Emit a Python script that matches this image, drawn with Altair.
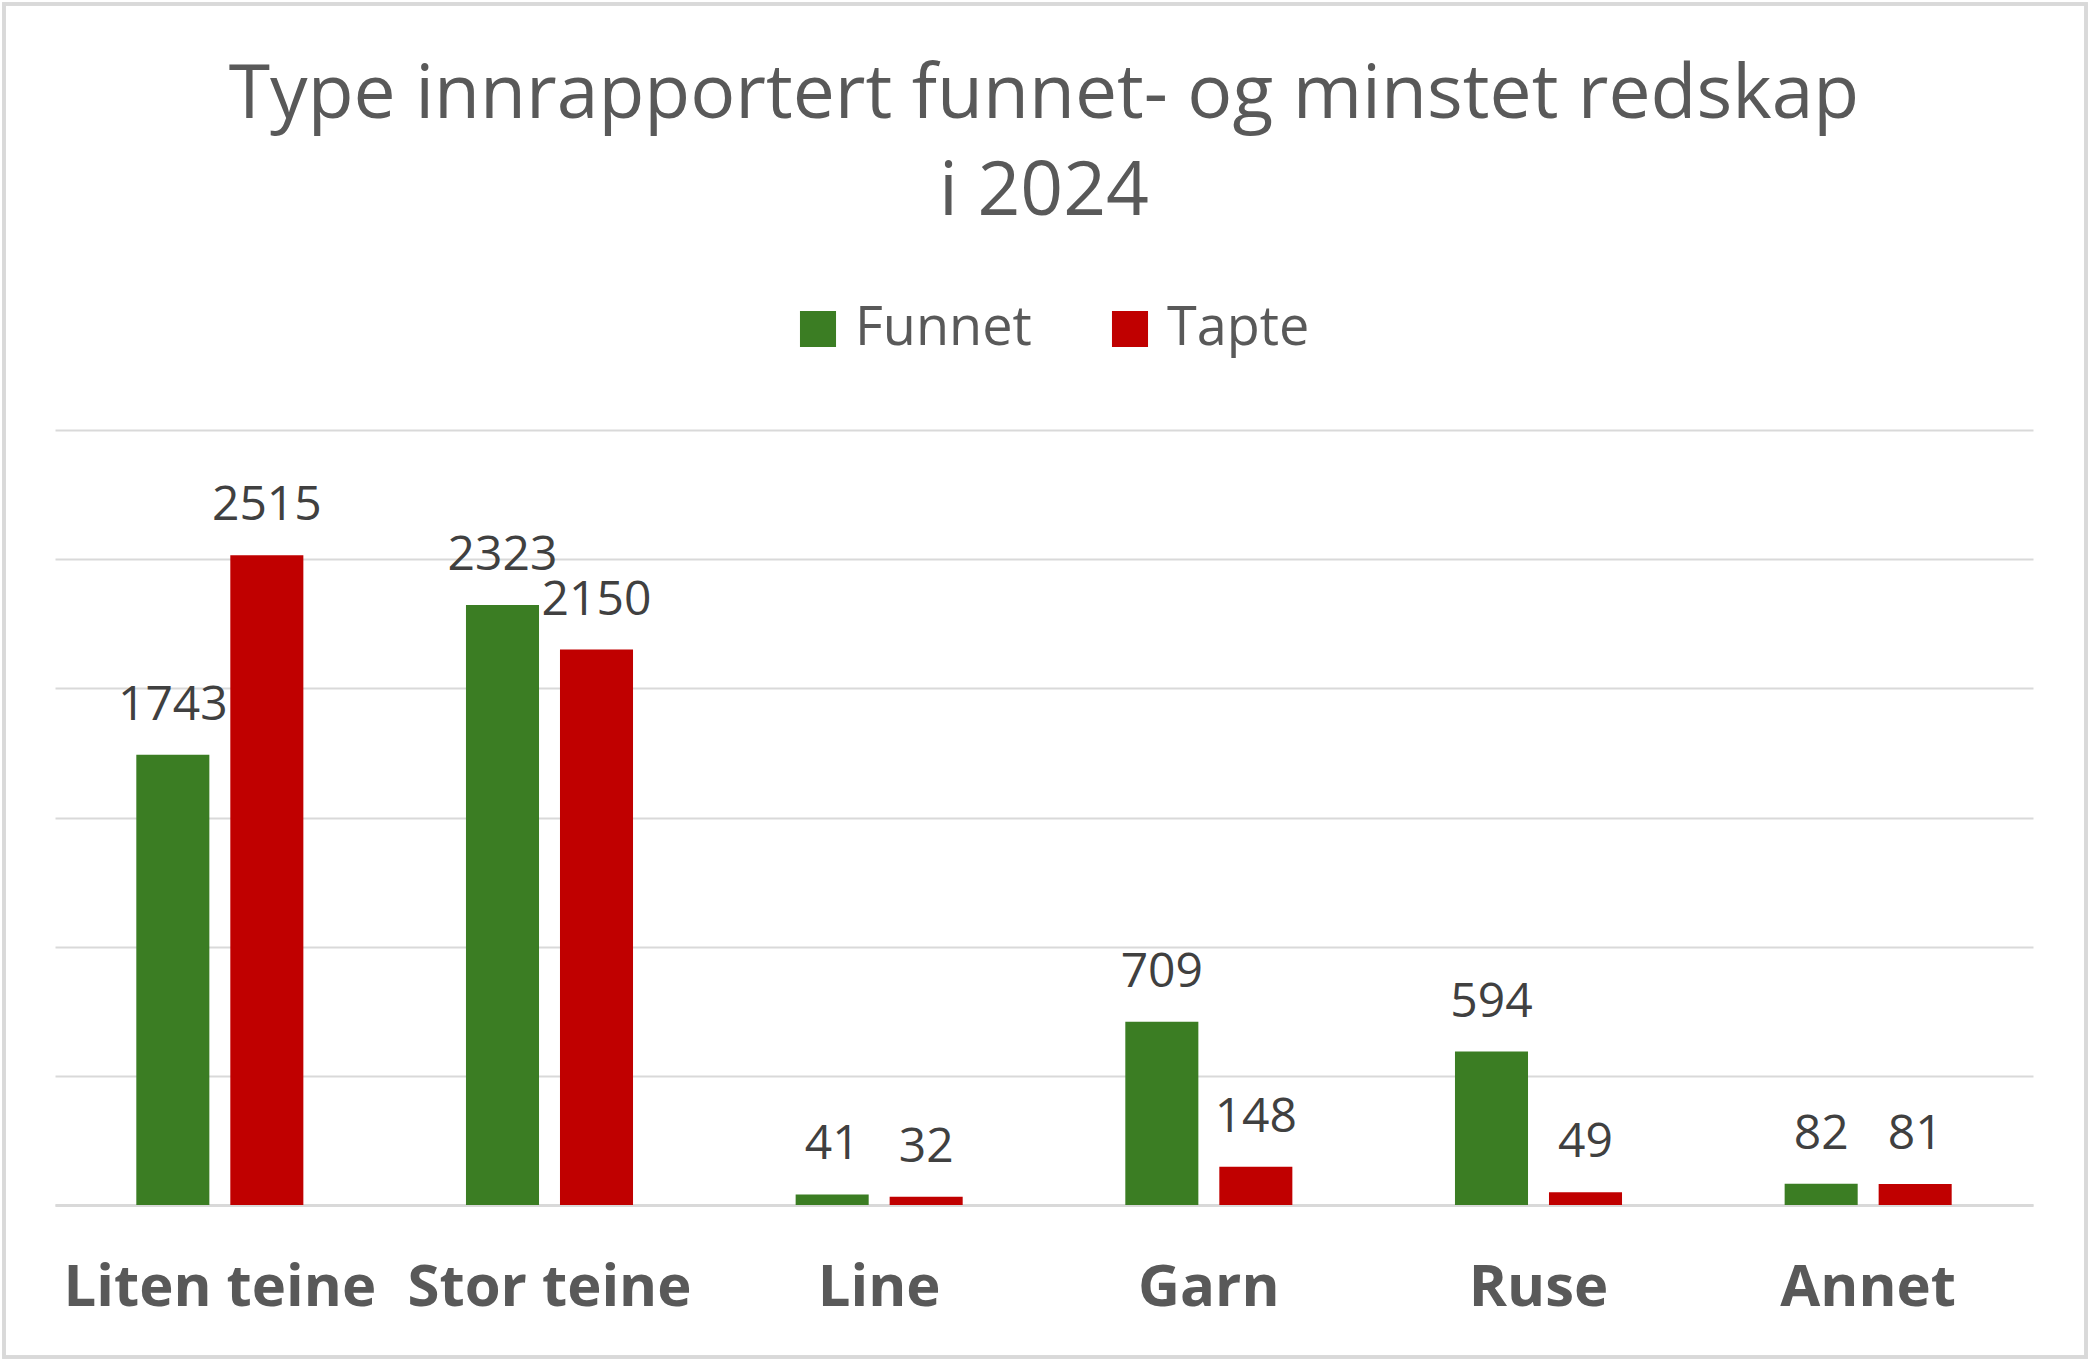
import altair as alt
import pandas as pd

categories = ["Liten teine", "Stor teine", "Line", "Garn", "Ruse", "Annet"]
series_names = ["Funnet", "Tapte"]
funnet = [1743, 2323, 41, 709, 594, 82]
tapte = [2515, 2150, 32, 148, 49, 81]
colors = ["#3B7D23", "#C00000"]

rows = []
for c, f, t in zip(categories, funnet, tapte):
    rows.append({"kategori": c, "serie": "Funnet", "antall": f})
    rows.append({"kategori": c, "serie": "Tapte", "antall": t})
df = pd.DataFrame(rows)

FONT = "Open Sans"
H = 775

x = alt.X("kategori:N", sort=categories, title=None,
          scale=alt.Scale(paddingInner=0, paddingOuter=0),
          axis=alt.Axis(labelFontSize=58, labelFontWeight="bold", labelColor="#595959",
                        labelFont=FONT, labelPadding=54, labelAngle=0, ticks=False,
                        labelLimit=0, domainColor="#D9D9D9", domainWidth=3, grid=False))
xo = alt.XOffset("serie:N", sort=series_names,
                 scale=alt.Scale(paddingInner=0.223, paddingOuter=0.865))
y = alt.Y("antall:Q", title=None,
          scale=alt.Scale(domain=[0, 3000], nice=False),
          axis=alt.Axis(values=[0, 500, 1000, 1500, 2000, 2500, 3000], labels=False,
                        ticks=False, domain=False, gridColor="#D9D9D9", gridWidth=2))
color = alt.Color("serie:N", sort=series_names, title=None,
                  scale=alt.Scale(domain=series_names, range=colors),
                  legend=alt.Legend(orient="none", legendX=736, legendY=-128,
                                    direction="horizontal", symbolType="square",
                                    symbolSize=1300, symbolStrokeWidth=0,
                                    labelFontSize=54, labelColor="#595959", labelFont=FONT,
                                    labelLimit=0, labelOffset=10, columnPadding=71))

bars = alt.Chart(df).mark_bar().encode(x=x, xOffset=xo, y=y, color=color)
labels = alt.Chart(df).mark_text(fontSize=48, color="#404040", font=FONT,
                                 baseline="alphabetic", dy=-35).encode(
    x=alt.X("kategori:N", sort=categories),
    xOffset=alt.XOffset("serie:N", sort=series_names),
    y="antall:Q", text="antall:Q")

border = alt.Chart(df).mark_rect(fillOpacity=0, stroke="#D9D9D9", strokeWidth=3).encode(
    x=alt.value(-51), x2=alt.value(2031), y=alt.value(-426), y2=alt.value(927))

chart = alt.layer(bars, labels, border).properties(
    width=1978, height=H,
    title=alt.TitleParams(["Type innrapportert funnet- og minstet redskap", "i 2024"],
                          fontSize=75, lineHeight=97, color="#595959", font=FONT,
                          fontWeight="normal", anchor="middle", frame="group",
                          offset=0, dy=228),
    padding={"left": 55, "top": 430, "right": 57, "bottom": 160},
    autosize=alt.AutoSizeParams(type="none"),
    background="white",
).configure_view(stroke="transparent", strokeWidth=0)

chart.save("out.html", embed_options={"renderer": "svg", "actions": False})
